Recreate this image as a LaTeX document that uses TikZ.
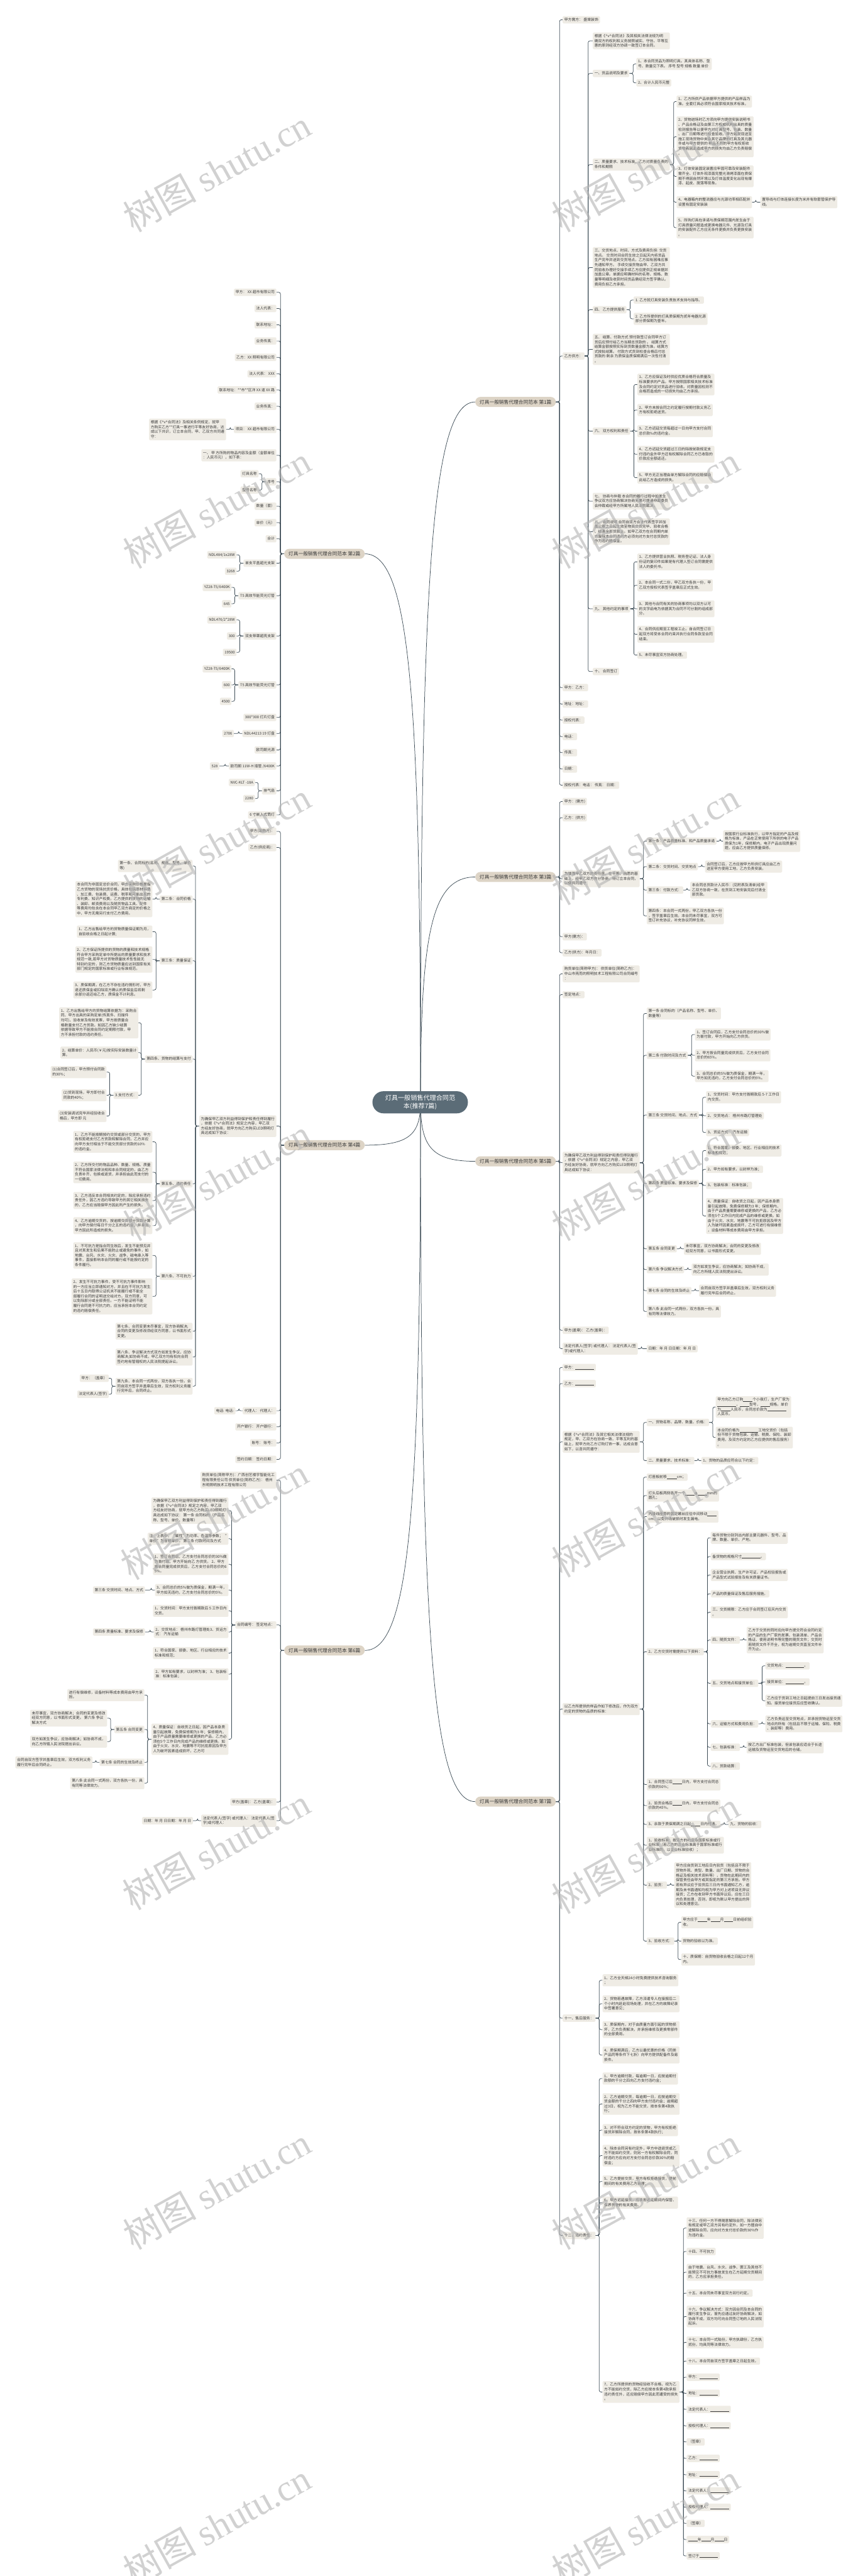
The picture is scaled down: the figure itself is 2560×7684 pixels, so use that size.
\documentclass[tikz,border=0pt]{standalone}
\usepackage{fontspec}
\setmainfont{Noto Sans CJK SC}
\newfontfamily\wmfont{Liberation Serif}
\usetikzlibrary{calc}

\definecolor{leafbg}{HTML}{EFECE5}
\definecolor{branchbg}{HTML}{DDD4C6}
\definecolor{rootbg}{HTML}{5B6C77}
\definecolor{linec}{HTML}{3E4D57}
\definecolor{txt}{HTML}{393939}

\newcommand{\hatv}{\textasciicircum v\textasciicircum}
\newcommand{\fillin}[1]{\rule[-1.2pt]{#1pt}{0.5pt}}
\newcommand{\lstrut}{\rule[-1.8pt]{0pt}{11.3pt}}

\pgfdeclarelayer{background}
\pgfsetlayers{background,main}

\tikzset{
  leaf/.style={fill=leafbg, text=txt, rounded corners=3pt, inner xsep=5pt, inner ysep=5.3pt,
    font=\fontsize{11}{14.3}\selectfont, align=left,
    execute at begin node=\lstrut, execute at end node=\lstrut},
  rleaf/.style={leaf, anchor=west},
  lleaf/.style={leaf, anchor=east},
  branch/.style={fill=branchbg, text=txt, rounded corners=15pt, minimum height=30pt,
    inner xsep=13pt, font=\fontsize{14.5}{17}\selectfont},
  root/.style={fill=rootbg, text=white, rounded corners=33pt, minimum height=66pt,
    inner xsep=38pt, font=\fontsize{19}{25}\selectfont, align=center},
  link/.style={draw=linec, line width=1.4pt, rounded corners=5pt},
  rt/.style={to path={-- ++(11,0) |- (\tikztotarget)}},
  lt/.style={to path={-- ++(-11,0) |- (\tikztotarget)}},
  wm/.style={text=black!30, text opacity=0.6, rotate=29, font=\fontsize{110}{110}\selectfont},
}

\begin{document}
\begin{tikzpicture}[x=1pt, y=-1pt]
\useasboundingbox (0,0) rectangle (2560,7684);

% root and the seven branches
\node[root] (root) at (1254,3288) {灯具一般销售代理合同范\\本(推荐7篇)};
\coordinate (hub) at (1255,3288);
\node[branch, anchor=east] (b1) at (1659,1199) {灯具一般销售代理合同范本 第1篇};
\node[branch, anchor=west] (b2) at (848,1652) {灯具一般销售代理合同范本 第2篇};
\node[branch, anchor=east] (b3) at (1659,2616) {灯具一般销售代理合同范本 第3篇};
\node[branch, anchor=west] (b4) at (848,3416) {灯具一般销售代理合同范本 第4篇};
\node[branch, anchor=east] (b5) at (1659,3464) {灯具一般销售代理合同范本 第5篇};
\node[branch, anchor=west] (b6) at (848,4923) {灯具一般销售代理合同范本 第6篇};
\node[branch, anchor=east] (b7) at (1659,5374) {灯具一般销售代理合同范本 第7篇};

% ---------- branch 1
\node[rleaf] (b1a) at (1679,59) {甲方需方： 盛棠装饰};
\node[rleaf] (b1b) at (1679,1062) {乙方供方：};
\node[rleaf] (b1c) at (1679,2051) {甲方：乙方：};
\node[rleaf] (b1d) at (1679,2100) {地址：地址：};
\node[rleaf] (b1e) at (1679,2148) {授权代表：};
\node[rleaf] (b1f) at (1679,2197) {电话：};
\node[rleaf] (b1g) at (1679,2245) {传真：};
\node[rleaf] (b1h) at (1679,2294) {日期：};
\node[rleaf] (b1i) at (1679,2342) {授权代表：电话： 传真： 日期：};
\node[rleaf] (b1b1) at (1769,122) {根据《\hatv 合同法》及其相关法律法规为明\\确双方的权利和义务按照诚实、守信、平等互\\惠的原则经双方协调一致签订本合同。};
\node[rleaf] (b1b2) at (1769,219) {一、货品说明及要求};
\node[rleaf] (b1b2a) at (1899,191) {1、本合同货品为照明灯具。其具体名称、型\\号、数量见下表。 序号 型号 规格 数量 单价};
\node[rleaf] (b1b2b) at (1899,247) {2、合计人民币元整};
\node[rleaf] (b1b3) at (1769,491) {二、质量要求、技术标准、乙方对质量负责的\\条件和期限};
\node[rleaf] (b1b3a) at (2019,303) {1、乙方所供产品依据甲方提供的产品样品为\\准。全套灯具必须符合国家相关技术标准。};
\node[rleaf] (b1b3b) at (2019,408) {2、货物进场时乙方须向甲方提供安装说明书\\、产品合格证及由第三方权威机构出具的质量\\检测报告等以便甲方对灯具型号、包装、数量\\、出厂日期等进行检查验收。甲方如发现送至\\施工现场货物中夹杂其它品牌的灯具及其元器\\件或与甲方提供的 样品不符的甲方有权拒收\\货物若因此造成甲方的损失均由乙方负责赔偿\\。};
\node[rleaf] (b1b3c) at (2019,526) {3、灯体安装固定装置应牢固可靠及安装配件\\需齐全、灯体外观漆面完整光滑烤漆面在质保\\期不得因自然环境以及灯体温度变化出现有爆\\漆、起皮、脱落等现象。};
\node[rleaf] (b1b3d) at (2019,603) {4、电器箱内的整流器应与光源功率相匹配并\\设置有固定安装装};
\node[rleaf] (b1b3d1) at (2269,603) {置导线与灯体连接长度为米并有软套管保护导\\线。};
\node[rleaf] (b1b3e) at (2019,679) {5、所购灯具在承诺与质保期范围内发生由于\\灯具质量问题造成更换电器元件、光源及灯具\\的安装配件乙方应无条件更换并负责更换安装\\。};
\node[rleaf] (b1b4) at (1769,798) {三、交货地点、时间、方式及费用负担: 交货\\地点。 交货时间合同生效之日起天内将货品\\生产完毕并送到交货地点。乙方如有困难应事\\先通知甲方。 手续交接货物由甲、乙双方共\\同验收办理好交接手续乙方应提供正规单据并\\加盖公章。单据应明确材料的名称、规格、数\\量等明细及收获时间货品需经双方签字确认。\\ 费用负担乙方承担。};
\node[rleaf] (b1b5) at (1769,924) {四、 乙方提供服务};
\node[rleaf] (b1b5a) at (1891,895) {1. 乙方就灯具安装负责技术支持与指导。};
\node[rleaf] (b1b5b) at (1891,951) {2. 乙方所提供的灯具质保期为贰年电器光源\\部分质保期为壹年。};
\node[rleaf] (b1b6) at (1769,1042) {五、 结算、付款方式 预付款签订合同甲方订\\货后应预付给乙方当期总货款的 。 结算方式\\结算金额按照实际到货数量金额为准。结算方\\式按批结算。 付款方式货到检查合格后付总\\货款的 剩余 为质保金质保期满后一次性付清\\。};
\node[rleaf] (b1b7) at (1769,1286) {六、 双方权利和责任};
\node[rleaf] (b1b7a) at (1902,1147) {1、乙方应保证及时供应优质合格符合质量及\\标准要求的产品。甲方按照国家相关技术标准\\及合同约定对货品进行验收。对质量因检测不\\合格而造成的一切损失均由乙方承担。};
\node[rleaf] (b1b7b) at (1902,1223) {2、甲方未按合同之约定履行按期付款义务乙\\方有权拒绝送货。};
\node[rleaf] (b1b7c) at (1902,1286) {3、乙方迟延交货每超过一日向甲方支付合同\\总价款‰的违约金。};
\node[rleaf] (b1b7d) at (1902,1355) {4、乙方迟延交货超过三日的除按前款规定支\\付违约金外甲方还有权解除合同乙方已收取的\\价款应全额返还。};
\node[rleaf] (b1b7e) at (1902,1425) {5、甲方无正当理由单方解除合同的应赔偿由\\此给乙方造成的损失。};
\node[rleaf] (b1b8) at (1769,1495) {七、 协商与仲裁 本合同的履行过程中如发生\\争议双方应协商解决协商无果可提请仲裁委员\\会仲裁或经甲方所属地人民法院裁决。};
\node[rleaf] (b1b9) at (1769,1586) {八、 合同说明 合同自双方合法代表签字并加\\盖公章之日起生效至物资交货完毕、验收合格\\、结清全部货款止。如甲乙双方在合同期内单\\方废除本合同违约方必须向对方支付总货款的\\作为违约赔偿金。};
\node[rleaf] (b1b10) at (1769,1816) {九、 其他约定的事项};
\node[rleaf] (b1b10a) at (1902,1676) {1、乙方提供营业执照、税务登记证、法人身\\份证的复印件如果是有代理人签订合同需提供\\法人的委托书。};
\node[rleaf] (b1b10b) at (1902,1746) {2、本合同一式二份，甲乙双方各执一份，甲\\乙双方授权代表签字盖章后正式生效。};
\node[rleaf] (b1b10c) at (1902,1816) {3、其他与合同有关的协商事项均以双方认可\\的文字函电为依据其为合同不可分割的组成部\\分。};
\node[rleaf] (b1b10d) at (1902,1892) {4、合同供应期至工程竣工止。自合同签订日\\起双方将受本合同约束并执行合同条款至合同\\结束。};
\node[rleaf] (b1b10e) at (1902,1954) {5、未尽事宜双方协商处理。};
\node[rleaf] (b1b11) at (1769,2003) {十、 合同签订};

% ---------- branch 3
\node[rleaf] (b3a) at (1679,2391) {甲方：(需方)};
\node[rleaf] (b3b) at (1679,2439) {乙方：(供方)};
\node[rleaf] (b3c) at (1679,2621) {为增强甲乙双方的责任感，在平等、自愿的基\\础上，经甲乙双方充分协商，特订立本合同，\\以便共同遵守：};
\node[rleaf] (b3c1) at (1930,2509) {第一条：产品质量标准、和产品质量承诺};
\node[rleaf] (b3c1a) at (2158,2509) {按国家行业标准执行，以甲方指定的产品及规\\格为标准，产品在正常使用下所供的电子产品\\质保为1年，保修期内，电子产品出现质量问\\题，应由乙方提供质量保修。};
\node[rleaf] (b3c2) at (1930,2585) {第二条：交货时间、交货地点};
\node[rleaf] (b3c2a) at (2104,2585) {合同签订后，乙方应按甲方所供灯具应由乙方\\送至甲方使用工地，乙方负责安装。};
\node[rleaf] (b3c3) at (1930,2655) {第三条：付款方式：};
\node[rleaf] (b3c3a) at (2060,2655) {本合同总货款计人民币：(见附表及清单)经甲\\乙双方协商一致，在货到工地安装完后付清全\\部货款。};
\node[rleaf] (b3c4) at (1930,2732) {第四条：本合同一式两份，甲乙双方各执一份\\，签字盖章后生效。本合同未尽事宜，双方可\\签订补充协议，补充协议同样生效。};
\node[rleaf] (b3d) at (1679,2794) {甲方(需方)：};
\node[rleaf] (b3e) at (1679,2842) {乙方(供方)：年月日：};

% ---------- branch 5
\node[rleaf] (b5a) at (1679,2905) {购货单位(简称甲方)： 供货单位(简称乙方)：\\中山市亮而的照明技术工程有限公司合同编号\\：};
\node[rleaf] (b5b) at (1679,2967) {签定地点：};
\node[rleaf] (b5c) at (1679,3468) {为确保甲乙双方利益得到保护和责任得到履行\\，依据《\hatv 合同法》规定之内容，甲乙双\\方经友好协商，就甲方向乙方购买LED照明灯\\具达成如下协议：};
\node[rleaf] (b5c1) at (1930,3023) {第一条 合同标的（产品名称、型号、单价、\\数量等）};
\node[rleaf] (b5c2) at (1930,3148) {第二条 付款时间及方式};
\node[rleaf] (b5c2a) at (2074,3086) {1、签订合同后，乙方支付合同总价的30\%做\\为首付款，甲方开始向乙方供货。};
\node[rleaf] (b5c2b) at (2074,3148) {2、甲方按合同量完成供货后，乙方支付合同\\总价的65\%。};
\node[rleaf] (b5c2c) at (2074,3210) {3、合同总价的5\%做为质保金，期满一年，\\甲方如无违约，乙方支付合同总价的5\%。};
\node[rleaf] (b5c3) at (1930,3326) {第三条 交货时间、地点、方式};
\node[rleaf] (b5c3a) at (2107,3273) {1、交货时间：甲方支付首期款后 5-7 工作日\\内交货。};
\node[rleaf] (b5c3b) at (2107,3328) {2、交货地点： 梧州市路灯管理处};
\node[rleaf] (b5c3c) at (2107,3378) {3、货运方式： 汽车运输};
\node[rleaf] (b5c4) at (1930,3530) {第四条 质量标准、要求及保修};
\node[rleaf] (b5c4a) at (2107,3432) {1、符合国家、部委、地区、行业相应的技术\\标准和规范；};
\node[rleaf] (b5c4b) at (2107,3488) {2、甲方如有要求，以封样为准；};
\node[rleaf] (b5c4c) at (2107,3536) {3、包装标准：标准包装；};
\node[rleaf] (b5c4d) at (2107,3627) {4、质量保证：自收货之日起，因产品本身质\\量引起故障，免费保修期为3 年；保修期内，\\由于产品质量需要维修或更换的产品，乙方必\\须在5个工作日内完成产品的维修或更换。如\\由于火灾、水灾、地震等不可抗拒原因及甲方\\人为破坏因素造成损坏，乙方可进行有偿维修\\，设备材料等成本费用由甲方承担。};
\node[rleaf] (b5c5) at (1930,3725) {第五条 合同变更};
\node[rleaf] (b5c5a) at (2041,3725) {未尽事宜，双方协商解决；合同的变更及修改\\经双方同意，以书面形式变更。};
\node[rleaf] (b5c6) at (1930,3787) {第六条 争议解决方式};
\node[rleaf] (b5c6a) at (2064,3787) {双方如发生争议，应协商解决；如协商不成，\\向乙方所辖人民法院提出诉讼。};
\node[rleaf] (b5c7) at (1930,3850) {第七条 合同的生效及终止};
\node[rleaf] (b5c7a) at (2086,3850) {合同自双方签字并盖章后生效，双方权利义务\\履行完毕后合同终止。};
\node[rleaf] (b5c8) at (1930,3912) {第八条 此合同一式两份，双方各执一份。具\\有同等法律效力。};
\node[rleaf] (b5d) at (1679,3968) {甲方(盖章)： 乙方(盖章)：};
\node[rleaf] (b5e) at (1679,4023) {法定代表人(签字) 或代理人： 法定代表人(签\\字)或代理人：};
\node[rleaf] (b5e1) at (1930,4023) {日期：年 月 日日期：年 月 日};

% ---------- branch 7
\node[rleaf] (b7a) at (1679,4079) {甲方：\fillin{56}};
\node[rleaf] (b7b) at (1679,4127) {乙方：\fillin{56}};
\node[rleaf] (b7c) at (1679,4301) {根据《\hatv 合同法》及其它相关法律法规的\\规定，甲、乙双方在协商一致、平等互利的基\\础上，就甲方向乙方订购灯饰一事，达成合意\\如下，以咨共同遵守：};
\node[rleaf] (b7c1) at (1930,4243) {一、货物名称、品牌、数量、价格：};
\node[rleaf] (b7c1a) at (2136,4197) {甲方向乙方订购\fillin{28}个小夜灯，生产厂家为\\\fillin{56}，\fillin{28}型号，\fillin{28}规格。单价\\为\fillin{28}人民币，合同总价款为\fillin{56}\\人民币。};
\node[rleaf] (b7c1b) at (2136,4288) {本合同价格为\fillin{56}工地交货价（包括\\但不限于货物包装、运输、税费、保险、装卸\\费用，及双方约定的乙方应提供的售后服务）\\。};
\node[rleaf] (b7c2) at (1930,4357) {二、质量要求、技术标准：};
\node[rleaf] (b7c2a) at (2093,4357) {1、货物的品质应符合以下约定：};
\node[rleaf] (b7d) at (1679,5098) {以乙方所提供的样品作如下修改后，作为双方\\约定的货物的品质的标准：};
\node[rleaf] (b7d1) at (1930,4406) {灯座板前移\fillin{30}cm；};
\node[rleaf] (b7d2) at (1930,4461) {灯头后板两侧各开一个\fillin{28}φ\fillin{28}mm的\\圆孔；};
\node[rleaf] (b7d3) at (1930,4524) {内接线座旁的固定螺丝应往中间移动\fillin{28}\\cm，以免外线破损时发生漏电。};
\node[rleaf] (b7d4) at (1930,4927) {2、乙方交货时需提供以下资料：};
\node[rleaf] (b7d4a) at (2121,4587) {每件货物分别列出内部主要元器件、型号、品\\牌、数量、单价、产地。};
\node[rleaf] (b7d4b) at (2121,4643) {备货物的规格尺寸\fillin{56}。};
\node[rleaf] (b7d4c) at (2121,4698) {企业营业执照、生产许可证、产品检验报告或\\产品型式试验报告及有关质量证书。};
\node[rleaf] (b7d4d) at (2121,4754) {产品的质量保证及售后服务措施。};
\node[rleaf] (b7d4e) at (2121,4809) {三、交货期限：乙方应于合同签订后天内交货\\。};
\node[rleaf] (b7d4f) at (2121,4892) {四、随货文件：};
\node[rleaf] (b7d4f1) at (2228,4892) {乙方于交货的同时应向甲方提交符合合同约定\\的产品的生产厂家的发票、包装清单、产品合\\格证、使用说明书等完整的随货文件；交货时\\若随货文件不齐全，视为逾期交货直至文件补\\齐为止。};
\node[rleaf] (b7d4g) at (2121,5021) {五、交货地点和接货单位：};
\node[rleaf] (b7d4g1) at (2284,4969) {交货地点：\fillin{56}。};
\node[rleaf] (b7d4g2) at (2284,5017) {接货单位：\fillin{56}。};
\node[rleaf] (b7d4g3) at (2284,5073) {乙方应于货到工地之日起提前三日发出接货通\\知。接货单位接货后应签收确认。};
\node[rleaf] (b7d4h) at (2121,5142) {六、运输方式和费用负担：};
\node[rleaf] (b7d4h1) at (2284,5142) {乙方负责运至交货地点，并承担货物运至交货\\地点的所有（包括且不限于运输、保险、税费\\、装卸等）费用。};
\node[rleaf] (b7d4i) at (2121,5212) {七、包装标准：};
\node[rleaf] (b7d4i1) at (2228,5212) {按乙方出厂标准包装，但该包装应适合于长途\\运输及货物运至交货地后的仓储。};
\node[rleaf] (b7d4j) at (2121,5268) {八、货款结算：};
\node[rleaf] (b7d5) at (1930,5323) {1、合同签订后\fillin{28}日内，甲方支付合同总\\价款的50\%；};
\node[rleaf] (b7d6) at (1930,5386) {2、验货合格后\fillin{28}日内，甲方支付合同总\\价款的45\%。};
\node[rleaf] (b7d7) at (1930,5442) {3、余款于质保期满之日起\fillin{28}日内付清。};
\node[rleaf] (b7d7a) at (2174,5442) {九、货物的验收：};
\node[rleaf] (b7d8) at (1930,5504) {1、验收标准：按双方的约定及国家标准或行\\业标准（若乙方的企业标准高于国家标准或行\\业标准的，以企业标准验收）；};
\node[rleaf] (b7d9) at (1930,5623) {2、验货：};
\node[rleaf] (b7d9a) at (2012,5623) {甲方应自货到工地后日内验货（包括且不限于\\货物外观、类型、数量、出厂日期、货物的合\\格证及相关技术资料等），货物在此期间内的\\保管责任由甲方或其指定的第三方承担。甲方\\若有异议应于验货后三日内书面通知乙方，逾\\期及未书面通知均视为甲方对上述项目无异议\\接货；乙方在收到甲方书面异议后，应在三日\\内负责处理，否则，即视为默认甲方提出的异\\议和处理意见。};
\node[rleaf] (b7d10) at (1930,5790) {3、验收方式：};
\node[rleaf] (b7d10a) at (2033,5734) {甲方应于\fillin{28}年\fillin{28}月\fillin{28}日前组织验\\收。};
\node[rleaf] (b7d10b) at (2033,5790) {货物的验收以为准。};
\node[rleaf] (b7d10c) at (2033,5845) {十、质保期：自货物验收合格之日起12个月\\内。};
\node[rleaf] (b7e) at (1679,6020) {十一、售后服务：};
\node[rleaf] (b7e1) at (1798,5907) {1、乙方全天候24小时免费提供技术咨询服务\\；};
\node[rleaf] (b7e2) at (1798,5977) {2、货物若遇故障，乙方派遣专人在接报后二\\个小时内赶赴现场处理，并在乙方的故障纪录\\中签署意见；};
\node[rleaf] (b7e3) at (1798,6054) {3、质保期内，对于由质量方面引起的货物损\\坏，乙方负责解决，并承担维修及更换零部件\\的全部费用。};
\node[rleaf] (b7e4) at (1798,6130) {4、质保期满后，乙方以最优惠的价格（同类\\产品同等条件下七折）向甲方提供配备件及易\\损件。};
\node[rleaf] (b7f) at (1679,6668) {十二、违约责任：};
\node[rleaf] (b7f1) at (1798,6200) {1、甲方逾期付款，每逾期一日，应按逾期付\\款额的千分之四向乙方支付违约金；};
\node[rleaf] (b7f2) at (1798,6276) {2、乙方逾期交货，每逾期一日，应按逾期交\\货金额的千分之四向甲方支付违约金；逾期超\\过3日，视为乙方不能交货，按本条第4款执\\行；};
\node[rleaf] (b7f3) at (1798,6354) {3、对不符合双方约定的货物，甲方有权拒绝\\接货并解除合同，按本条第4款执行；};
\node[rleaf] (b7f4) at (1798,6430) {4、除本合同另有约定外，甲方中途退货或乙\\方不能如约交货，则另一方有权解除合同，同\\时违约方应向对方支付合同总价款30\%的赔\\偿金；};
\node[rleaf] (b7f5) at (1798,6507) {5、乙方提前交货，甲方有权拒绝接货，提前\\期间的有关费用乙方自理；};
\node[rleaf] (b7f6) at (1798,6570) {6、甲方迟延接货，应承担迟延期间内保管、\\保养货物的有关费用。};
\node[rleaf] (b7f7) at (1798,7135) {7、乙方所提供的货物经验收不合格，视为乙\\方不能如约交货，除乙方应按本条第4款承担\\违约责任外，还应赔偿甲方因此而遭受的损失\\。};
\node[rleaf] (b7g1) at (2049,6646) {十三、任何一方不得随意解除合同，除法律另\\有规定或甲乙双方另有约定外，如一方擅自中\\途解除合同，应向对方支付总价款的30\%作\\为违约金。};
\node[rleaf] (b7g2) at (2049,6716) {十四、不可抗力};
\node[rleaf] (b7g3) at (2049,6778) {由于地震、台风、水灾、战争、罢工及其他不\\能预见不可抗力事故发生在乙方延期交货期间\\的，乙方应承担责任。};
\node[rleaf] (b7g4) at (2049,6840) {十五、本合同未尽事宜双方另行约定。};
\node[rleaf] (b7g5) at (2049,6910) {十六、争议解决方式：双方因合同及本合同的\\履行发生争议，首先应通过友好协商解决，如\\协商不成，双方均可向合同签订地的人民法院\\起诉。};
\node[rleaf] (b7g6) at (2049,6987) {十七、本合同一式陆份，甲方执肆份，乙方执\\贰份，均具同等法律效力。};
\node[rleaf] (b7g7) at (2049,7043) {十八、本合同自双方签字盖章之日起生效。};
\node[rleaf] (b7g8) at (2049,7091) {甲方：\fillin{56}};
\node[rleaf] (b7g9) at (2049,7139) {地址：\fillin{56}};
\node[rleaf] (b7g10) at (2049,7187) {法定代表人：\fillin{56}};
\node[rleaf] (b7g11) at (2049,7236) {授权代理人：\fillin{56}};
\node[rleaf] (b7g12) at (2049,7284) {（签章）};
\node[rleaf] (b7g13) at (2049,7333) {乙方：\fillin{56}};
\node[rleaf] (b7g14) at (2049,7382) {地址：\fillin{56}};
\node[rleaf] (b7g15) at (2049,7430) {法定代表人：\fillin{56}};
\node[rleaf] (b7g16) at (2049,7479) {授权代理人：\fillin{56}};
\node[rleaf] (b7g17) at (2049,7527) {（签章）};
\node[rleaf] (b7g18) at (2049,7575) {\fillin{28}年\fillin{28}月\fillin{28}日};
\node[rleaf] (b7g19) at (2049,7624) {签订于\fillin{56}};

% ---------- branch 2
\node[lleaf] (b2a) at (825,872) {甲方： XX 超市有限公司};
\node[lleaf] (b2b) at (825,920) {法人代表：};
\node[lleaf] (b2c) at (825,969) {联系地址：};
\node[lleaf] (b2d) at (825,1017) {业务传真：};
\node[lleaf] (b2e) at (825,1066) {乙方：XX 照明有限公司};
\node[lleaf] (b2f) at (825,1115) {法人代表： XXX};
\node[lleaf] (b2g) at (825,1163) {联系地址：**市**区洋 XX 道 XX 路};
\node[lleaf] (b2h) at (825,1212) {业务传真：};
\node[lleaf] (b2i) at (825,1281) {项目： XX 超市有限公司};
\node[lleaf] (b2i1) at (675,1281) {根据《\hatv 合同法》及相关条例规定，就甲\\方购买乙方**灯具一事进行平等友好协商，达\\成以下共识，订立本合同，甲、乙双方共同遵\\守：};
\node[lleaf] (b2j) at (825,1358) {一、 甲 方所购的物品内容及金额（金额单位\\：人民币元），如下表：};
\node[lleaf] (b2k) at (825,1437) {序号};
\node[lleaf] (b2k1) at (772,1413) {灯具名称};
\node[lleaf] (b2k2) at (772,1462) {型号名称};
\node[lleaf] (b2l) at (825,1510) {数量（套）};
\node[lleaf] (b2m) at (825,1559) {单价（元）};
\node[lleaf] (b2n) at (825,1607) {合计};
\node[lleaf] (b2o) at (825,1680) {单支平盖超光支架};
\node[lleaf] (b2o1) at (706,1655) {NDL484/1x28W};
\node[lleaf] (b2o2) at (706,1704) {3268};
\node[lleaf] (b2p) at (825,1777) {T5 高效节能荧光灯管};
\node[lleaf] (b2p1) at (691,1752) {YZ28-T5/6400K};
\node[lleaf] (b2p2) at (691,1801) {645};
\node[lleaf] (b2q) at (825,1897) {双支带罩超亮支架};
\node[lleaf] (b2q1) at (706,1849) {NDL476/2*28W};
\node[lleaf] (b2q2) at (706,1897) {300};
\node[lleaf] (b2q3) at (706,1946) {19500};
\node[lleaf] (b2r) at (825,2043) {T5 高效节能荧光灯管};
\node[lleaf] (b2r1) at (691,1995) {YZ28-T5/6400K};
\node[lleaf] (b2r2) at (691,2043) {600};
\node[lleaf] (b2r3) at (691,2092) {4500};
\node[lleaf] (b2s) at (825,2140) {300*300 灯片灯盘};
\node[lleaf] (b2t) at (825,2188) {NDL44213 19 灯盘};
\node[lleaf] (b2t1) at (698,2188) {2706};
\node[lleaf] (b2u) at (825,2237) {欧司朗光源};
\node[lleaf] (b2v) at (825,2285) {欧司朗 11W-H 插管 /6400K};
\node[lleaf] (b2v1) at (655,2285) {528};
\node[lleaf] (b2w) at (825,2359) {排气扇};
\node[lleaf] (b2w1) at (761,2334) {NVC-KLT -18A};
\node[lleaf] (b2w2) at (761,2382) {2280};
\node[lleaf] (b2x) at (825,2431) {6 寸嵌入式筒灯};

% ---------- branch 4
\node[lleaf] (b4a) at (825,2480) {甲方(采购方)：};
\node[lleaf] (b4b) at (825,2528) {乙方(供应商)：};
\node[lleaf] (b4c) at (825,3359) {为确保甲乙双方利益得到保护和责任得到履行\\，依据《\hatv 合同法》规定之内容，甲乙双\\方经友好协商，就甲方向乙方购买LED照明灯\\具达成如下协议：};
\node[lleaf] (b4c1) at (575,2583) {第一条、合同标的(名称、规格、型号、单价\\等)};
\node[lleaf] (b4c2) at (575,2682) {第二条：合同价格};
\node[lleaf] (b4c2a) at (455,2682) {本合同为非固定总价合同，甲方采购价格是指\\乙方货物的现场抗货价格，具体包括原材料费\\、加工费、包装费、运费、税率和可能出现的\\专利费、知识产权费。乙方提供的货物的运输\\、装卸、邮资费用以及随货物品工具、配件\\等费用均包含在本合同甲乙双方商定的价格之\\中，甲方无需另行支付乙方费用。};
\node[lleaf] (b4c3) at (575,2866) {第三条：质量保证};
\node[lleaf] (b4c3a) at (455,2779) {1、乙方出售给甲方的货物质量保证期为月，\\自验收合格之日起计算;};
\node[lleaf] (b4c3b) at (455,2862) {2、乙方保证所提供的货物的质量和技术规格\\符合甲方采购定单中所提出的质量要求和技术\\规范一致,若甲方对货物质量技术性性能无\\特别约定的，则乙方货物质量应达到国家有关\\部门规定的国家标准或行业标准规范。};
\node[lleaf] (b4c3c) at (455,2953) {3、质保期满，在乙方不存在违约情形时，甲方\\退还质保金或扣除双方确认的质保金后将剩\\余部分返还给乙方，质保金不计利息。};
\node[lleaf] (b4c4) at (575,3159) {第四条、货物的结算与支付};
\node[lleaf] (b4c4a) at (413,3051) {1、乙方出售给甲方的货物结算依据为：采购合\\同、甲方出具的采购定单(传真件、扫描件\\均可)、验收单及有效发票，甲方按质量合\\格数量支付乙方货款。如因乙方缺少结算\\依据导致甲方不能按合同约定期限付款，甲\\方不承担付款的违约责任。};
\node[lleaf] (b4c4b) at (413,3140) {2、结算单价：人民币(￥元)按实际安装数量计\\算。};
\node[lleaf] (b4c4c) at (413,3267) {3.支付方式：};
\node[lleaf] (b4c4c1) at (318,3198) {(1)合同签订后，甲方预付合同款\\的30\%；};
\node[lleaf] (b4c4c2) at (318,3267) {(2)货到现场，甲方即付合\\同款的40\%；};
\node[lleaf] (b4c4c3) at (318,3329) {(3)安装调试完毕并经验收合\\格后，甲方即 元};
\node[lleaf] (b4c5) at (575,3531) {第五条、违约责任};
\node[lleaf] (b4c5a) at (455,3406) {1、乙方不能按期按约交货或部分交货的，甲方\\有权拒绝支付乙方货款和解除合同，乙方并应\\向甲方支付相当于不能交货部分货款的10\%\\的违约金。};
\node[lleaf] (b4c5b) at (455,3497) {2、乙方所交付的物品品种、数量、规格、质量\\不符合国家法律法规和本合同规定的，由乙方\\负责补齐、包换或退货，并承担由此而支付的\\一切费用。};
\node[lleaf] (b4c5c) at (455,3581) {3、乙方违反本合同相关约定的，除应承担违约\\责任外，因乙方违约导致甲方的其它相关损失\\的，乙方应当赔偿甲方因此所产生的损失。};
\node[lleaf] (b4c5d) at (455,3656) {4、乙方逾期交货的，按逾期交货部分货款计算\\，向甲方偿付每日千分之五的违约金，并承当\\甲方因此所造成的损失。};
\node[lleaf] (b4c6) at (575,3807) {第六条、不可抗力};
\node[lleaf] (b4c6a) at (455,3745) {1、不可抗力是指合同生效后，发生不能预见并\\且对其发生和后果不能防止或避免的事件，如\\地震、台风、水灾、火灾、战争、磁电串入等\\事件，直接影响本合同的履行或不能按约定的\\条件履行。};
\node[lleaf] (b4c6b) at (455,3867) {2、发生不可抗力事件，受不可抗力事件影响\\的一方应当立即通知对方，并且在不可抗力发生\\后十五日内取得公证机关不能履行或不能全\\部履行合同的证明送交给对方。双方同意，可\\以免除部分或全部责任。一方不能证明不能\\履行合同是不可抗力的，应当承担本合同约定\\的违约赔偿责任。};
\node[lleaf] (b4c7) at (575,3971) {第七条、合同变更未尽事宜，双方协商解决;\\合同的变更及修改须经双方同意，以书面形式\\变更。};
\node[lleaf] (b4c8) at (575,4048) {第八条、争议解决方式双方如发生争议，应协\\商解决;如协商不成，甲乙双方均有权向合同\\签约地有管辖权的人民法院提起诉讼。};
\node[lleaf] (b4c9) at (575,4135) {第九条、本合同一式两份，双方各执一份。合\\同自双方签字并盖章后生效，双方权利义务履\\行完毕后，合同终止。};
\node[lleaf] (b4c9a) at (325,4111) {甲方：（盖章）};
\node[lleaf] (b4c9b) at (325,4159) {法定代表人(签字)};
\node[lleaf] (b4d) at (825,4208) {代理人： 代理人：};
\node[lleaf] (b4d1) at (703,4208) {电话: 电话:};
\node[lleaf] (b4e) at (825,4256) {开户银行： 开户银行：};
\node[lleaf] (b4f) at (825,4304) {账号： 账号：};
\node[lleaf] (b4g) at (825,4353) {签约日期： 签约日期：};

% ---------- branch 6
\node[lleaf] (b6a) at (825,4415) {购货单位(简称甲方)：广西创艺楼宇智能化工\\程有限责任公司 供货单位(简称乙方)： 梧州\\东明照明技术工程有限公司};
\node[lleaf] (b6b) at (825,4847) {合同编号： 签定地点：};
\node[lleaf] (b6b1) at (682,4506) {为确保甲乙双方利益得到保护和责任得到履行\\，依据《\hatv 合同法》规定之内容，甲乙双\\方经友好协商，就甲方向乙方购买LED照明灯\\具达成如下协议： 第一条 合同标的（产品名\\称、型号、单价、数量等）};
\node[lleaf] (b6b2) at (682,4590) {注：上表中，“属性”为功率、色温等参数；“\\单价”为含税单价。 第二条 付款时间及方式};
\node[lleaf] (b6b3) at (682,4666) {1、签订合同后，乙方支付合同总价的30\%做\\为首付款，甲方开始向乙 方供货。 2、甲方\\按合同量完成供货后，乙方支付合同总价的6\\5\%。};
\node[lleaf] (b6b4) at (682,4743) {3、合同总价的5\%做为质保金，期满一年，\\甲方如无违约，乙方支付合同总价的5\%。};
\node[lleaf] (b6b4a) at (433,4743) {第三条 交货时间、地点、方式};
\node[lleaf] (b6b5) at (682,4805) {1、交货时间：甲方支付首期款后 5 工作日内\\交货。};
\node[lleaf] (b6b6) at (682,4868) {2、交货地点： 梧州市路灯管理处3、货运方\\式： 汽车运输};
\node[lleaf] (b6b6a) at (433,4868) {第四条 质量标准、要求及保修};
\node[lleaf] (b6b7) at (682,4931) {1、符合国家、部委、地区、行业相应的技术\\标准和规范；};
\node[lleaf] (b6b8) at (682,4994) {2、甲方如有要求，以封样为准； 3、包装标\\准：标准包装；};
\node[lleaf] (b6b9) at (682,5188) {4、质量保证：自收货之日起，因产品本身质\\量引起故障，免费保修期为3 年；保修期内，\\由于产品质量需要维修或更换的产品，乙方必\\须在5个工作日内完成产品的维修或更换。如\\由于火灾、水灾、地震等不可抗拒原因及甲方\\人为破坏因素造成损坏，乙方可};
\node[lleaf] (b6b9a) at (431,5056) {进行有偿维修，设备材料等成本费用由甲方承\\担。};
\node[lleaf] (b6b9b) at (431,5159) {第五条 合同变更};
\node[lleaf] (b6b9b1) at (320,5125) {未尽事宜，双方协商解决；合同的变更及修改\\经双方同意，以书面形式变更。 第六条 争议\\解决方式};
\node[lleaf] (b6b9b2) at (320,5195) {双方如发生争议，应协商解决；如协商不成，\\向乙方所辖人民法院提出诉讼。};
\node[lleaf] (b6b9c) at (431,5257) {第七条 合同的生效及终止};
\node[lleaf] (b6b9c1) at (276,5257) {合同自双方签字并盖章后生效，双方权利义务\\履行完毕后合同终止。};
\node[lleaf] (b6b9d) at (431,5319) {第八条 此合同一式两份，双方各执一份，具\\有同等法律效力。};
\node[lleaf] (b6c) at (825,5375) {甲方(盖章)： 乙方(盖章)：};
\node[lleaf] (b6d) at (825,5431) {法定代表人(签字) 或代理人： 法定代表人(签\\字)或代理人：};
\node[lleaf] (b6d1) at (576,5431) {日期：年 月 日日期：年 月 日};

% ---------- connectors
\begin{pgfonlayer}{background}
\draw[link] (hub) .. controls ($(hub)!0.75!(hub |- b1.west)$) and ($(b1.west)!0.8!(hub |- b1.west)$) .. (b1.west);
\draw[link] (hub) .. controls ($(hub)!0.75!(hub |- b3.west)$) and ($(b3.west)!0.8!(hub |- b3.west)$) .. (b3.west);
\draw[link] (hub) .. controls ($(hub)!0.75!(hub |- b5.west)$) and ($(b5.west)!0.8!(hub |- b5.west)$) .. (b5.west);
\draw[link] (hub) .. controls ($(hub)!0.75!(hub |- b7.west)$) and ($(b7.west)!0.8!(hub |- b7.west)$) .. (b7.west);
\draw[link] (hub) .. controls ($(hub)!0.75!(hub |- b2.east)$) and ($(b2.east)!0.8!(hub |- b2.east)$) .. (b2.east);
\draw[link] (hub) .. controls ($(hub)!0.75!(hub |- b4.east)$) and ($(b4.east)!0.8!(hub |- b4.east)$) .. (b4.east);
\draw[link] (hub) .. controls ($(hub)!0.75!(hub |- b6.east)$) and ($(b6.east)!0.8!(hub |- b6.east)$) .. (b6.east);

% right side
\path[link] (b1.east) edge[rt] (b1a.west) edge[rt] (b1b.west) edge[rt] (b1c.west) edge[rt] (b1d.west) edge[rt] (b1e.west) edge[rt] (b1f.west) edge[rt] (b1g.west) edge[rt] (b1h.west) edge[rt] (b1i.west);
\path[link] (b1b.east) edge[rt] (b1b1.west) edge[rt] (b1b2.west) edge[rt] (b1b3.west) edge[rt] (b1b4.west) edge[rt] (b1b5.west) edge[rt] (b1b6.west) edge[rt] (b1b7.west) edge[rt] (b1b8.west) edge[rt] (b1b9.west) edge[rt] (b1b10.west) edge[rt] (b1b11.west);
\path[link] (b1b2.east) edge[rt] (b1b2a.west) edge[rt] (b1b2b.west);
\path[link] (b1b3.east) edge[rt] (b1b3a.west) edge[rt] (b1b3b.west) edge[rt] (b1b3c.west) edge[rt] (b1b3d.west) edge[rt] (b1b3e.west);
\path[link] (b1b3d.east) edge[rt] (b1b3d1.west);
\path[link] (b1b5.east) edge[rt] (b1b5a.west) edge[rt] (b1b5b.west);
\path[link] (b1b7.east) edge[rt] (b1b7a.west) edge[rt] (b1b7b.west) edge[rt] (b1b7c.west) edge[rt] (b1b7d.west) edge[rt] (b1b7e.west);
\path[link] (b1b10.east) edge[rt] (b1b10a.west) edge[rt] (b1b10b.west) edge[rt] (b1b10c.west) edge[rt] (b1b10d.west) edge[rt] (b1b10e.west);

\path[link] (b3.east) edge[rt] (b3a.west) edge[rt] (b3b.west) edge[rt] (b3c.west) edge[rt] (b3d.west) edge[rt] (b3e.west);
\path[link] (b3c.east) edge[rt] (b3c1.west) edge[rt] (b3c2.west) edge[rt] (b3c3.west) edge[rt] (b3c4.west);
\path[link] (b3c1.east) edge[rt] (b3c1a.west);
\path[link] (b3c2.east) edge[rt] (b3c2a.west);
\path[link] (b3c3.east) edge[rt] (b3c3a.west);

\path[link] (b5.east) edge[rt] (b5a.west) edge[rt] (b5b.west) edge[rt] (b5c.west) edge[rt] (b5d.west) edge[rt] (b5e.west);
\path[link] (b5c.east) edge[rt] (b5c1.west) edge[rt] (b5c2.west) edge[rt] (b5c3.west) edge[rt] (b5c4.west) edge[rt] (b5c5.west) edge[rt] (b5c6.west) edge[rt] (b5c7.west) edge[rt] (b5c8.west);
\path[link] (b5c2.east) edge[rt] (b5c2a.west) edge[rt] (b5c2b.west) edge[rt] (b5c2c.west);
\path[link] (b5c3.east) edge[rt] (b5c3a.west) edge[rt] (b5c3b.west) edge[rt] (b5c3c.west);
\path[link] (b5c4.east) edge[rt] (b5c4a.west) edge[rt] (b5c4b.west) edge[rt] (b5c4c.west) edge[rt] (b5c4d.west);
\path[link] (b5c5.east) edge[rt] (b5c5a.west);
\path[link] (b5c6.east) edge[rt] (b5c6a.west);
\path[link] (b5c7.east) edge[rt] (b5c7a.west);
\path[link] (b5e.east) edge[rt] (b5e1.west);

\path[link] (b7.east) edge[rt] (b7a.west) edge[rt] (b7b.west) edge[rt] (b7c.west) edge[rt] (b7d.west) edge[rt] (b7e.west) edge[rt] (b7f.west);
\path[link] (b7c.east) edge[rt] (b7c1.west) edge[rt] (b7c2.west);
\path[link] (b7c1.east) edge[rt] (b7c1a.west) edge[rt] (b7c1b.west);
\path[link] (b7c2.east) edge[rt] (b7c2a.west);
\path[link] (b7d.east) edge[rt] (b7d1.west) edge[rt] (b7d2.west) edge[rt] (b7d3.west) edge[rt] (b7d4.west) edge[rt] (b7d5.west) edge[rt] (b7d6.west) edge[rt] (b7d7.west) edge[rt] (b7d8.west) edge[rt] (b7d9.west) edge[rt] (b7d10.west);
\path[link] (b7d4.east) edge[rt] (b7d4a.west) edge[rt] (b7d4b.west) edge[rt] (b7d4c.west) edge[rt] (b7d4d.west) edge[rt] (b7d4e.west) edge[rt] (b7d4f.west) edge[rt] (b7d4g.west) edge[rt] (b7d4h.west) edge[rt] (b7d4i.west) edge[rt] (b7d4j.west);
\path[link] (b7d4f.east) edge[rt] (b7d4f1.west);
\path[link] (b7d4g.east) edge[rt] (b7d4g1.west) edge[rt] (b7d4g2.west) edge[rt] (b7d4g3.west);
\path[link] (b7d4h.east) edge[rt] (b7d4h1.west);
\path[link] (b7d4i.east) edge[rt] (b7d4i1.west);
\path[link] (b7d7.east) edge[rt] (b7d7a.west);
\path[link] (b7d9.east) edge[rt] (b7d9a.west);
\path[link] (b7d10.east) edge[rt] (b7d10a.west) edge[rt] (b7d10b.west) edge[rt] (b7d10c.west);
\path[link] (b7e.east) edge[rt] (b7e1.west) edge[rt] (b7e2.west) edge[rt] (b7e3.west) edge[rt] (b7e4.west);
\path[link] (b7f.east) edge[rt] (b7f1.west) edge[rt] (b7f2.west) edge[rt] (b7f3.west) edge[rt] (b7f4.west) edge[rt] (b7f5.west) edge[rt] (b7f6.west) edge[rt] (b7f7.west);
\path[link] (b7f7.east) edge[rt] (b7g1.west) edge[rt] (b7g2.west) edge[rt] (b7g3.west) edge[rt] (b7g4.west) edge[rt] (b7g5.west) edge[rt] (b7g6.west) edge[rt] (b7g7.west) edge[rt] (b7g8.west) edge[rt] (b7g9.west) edge[rt] (b7g10.west) edge[rt] (b7g11.west) edge[rt] (b7g12.west) edge[rt] (b7g13.west) edge[rt] (b7g14.west) edge[rt] (b7g15.west) edge[rt] (b7g16.west) edge[rt] (b7g17.west) edge[rt] (b7g18.west) edge[rt] (b7g19.west);

% left side
\path[link] (b2.west) edge[lt] (b2a.east) edge[lt] (b2b.east) edge[lt] (b2c.east) edge[lt] (b2d.east) edge[lt] (b2e.east) edge[lt] (b2f.east) edge[lt] (b2g.east) edge[lt] (b2h.east) edge[lt] (b2i.east) edge[lt] (b2j.east) edge[lt] (b2k.east) edge[lt] (b2l.east) edge[lt] (b2m.east) edge[lt] (b2n.east) edge[lt] (b2o.east) edge[lt] (b2p.east) edge[lt] (b2q.east) edge[lt] (b2r.east) edge[lt] (b2s.east) edge[lt] (b2t.east) edge[lt] (b2u.east) edge[lt] (b2v.east) edge[lt] (b2w.east) edge[lt] (b2x.east);
\path[link] (b2i.west) edge[lt] (b2i1.east);
\path[link] (b2k.west) edge[lt] (b2k1.east) edge[lt] (b2k2.east);
\path[link] (b2o.west) edge[lt] (b2o1.east) edge[lt] (b2o2.east);
\path[link] (b2p.west) edge[lt] (b2p1.east) edge[lt] (b2p2.east);
\path[link] (b2q.west) edge[lt] (b2q1.east) edge[lt] (b2q2.east) edge[lt] (b2q3.east);
\path[link] (b2r.west) edge[lt] (b2r1.east) edge[lt] (b2r2.east) edge[lt] (b2r3.east);
\path[link] (b2t.west) edge[lt] (b2t1.east);
\path[link] (b2v.west) edge[lt] (b2v1.east);
\path[link] (b2w.west) edge[lt] (b2w1.east) edge[lt] (b2w2.east);

\path[link] (b4.west) edge[lt] (b4a.east) edge[lt] (b4b.east) edge[lt] (b4c.east) edge[lt] (b4d.east) edge[lt] (b4e.east) edge[lt] (b4f.east) edge[lt] (b4g.east);
\path[link] (b4c.west) edge[lt] (b4c1.east) edge[lt] (b4c2.east) edge[lt] (b4c3.east) edge[lt] (b4c4.east) edge[lt] (b4c5.east) edge[lt] (b4c6.east) edge[lt] (b4c7.east) edge[lt] (b4c8.east) edge[lt] (b4c9.east);
\path[link] (b4c2.west) edge[lt] (b4c2a.east);
\path[link] (b4c3.west) edge[lt] (b4c3a.east) edge[lt] (b4c3b.east) edge[lt] (b4c3c.east);
\path[link] (b4c4.west) edge[lt] (b4c4a.east) edge[lt] (b4c4b.east) edge[lt] (b4c4c.east);
\path[link] (b4c4c.west) edge[lt] (b4c4c1.east) edge[lt] (b4c4c2.east) edge[lt] (b4c4c3.east);
\path[link] (b4c5.west) edge[lt] (b4c5a.east) edge[lt] (b4c5b.east) edge[lt] (b4c5c.east) edge[lt] (b4c5d.east);
\path[link] (b4c6.west) edge[lt] (b4c6a.east) edge[lt] (b4c6b.east);
\path[link] (b4c9.west) edge[lt] (b4c9a.east) edge[lt] (b4c9b.east);
\path[link] (b4d.west) edge[lt] (b4d1.east);

\path[link] (b6.west) edge[lt] (b6a.east) edge[lt] (b6b.east) edge[lt] (b6c.east) edge[lt] (b6d.east);
\path[link] (b6b.west) edge[lt] (b6b1.east) edge[lt] (b6b2.east) edge[lt] (b6b3.east) edge[lt] (b6b4.east) edge[lt] (b6b5.east) edge[lt] (b6b6.east) edge[lt] (b6b7.east) edge[lt] (b6b8.east) edge[lt] (b6b9.east);
\path[link] (b6b4.west) edge[lt] (b6b4a.east);
\path[link] (b6b6.west) edge[lt] (b6b6a.east);
\path[link] (b6b9.west) edge[lt] (b6b9a.east) edge[lt] (b6b9b.east) edge[lt] (b6b9c.east) edge[lt] (b6b9d.east);
\path[link] (b6b9b.west) edge[lt] (b6b9b1.east) edge[lt] (b6b9b2.east);
\path[link] (b6b9c.west) edge[lt] (b6b9c1.east);
\path[link] (b6d.west) edge[lt] (b6d1.east);
\end{pgfonlayer}

% watermark
\node[wm] (wm1) at (647,510) {树图 {\wmfont shutu.cn}};
\node[wm] (wm2) at (647,1513) {树图 {\wmfont shutu.cn}};
\node[wm] (wm3) at (647,2516) {树图 {\wmfont shutu.cn}};
\node[wm] (wm4) at (647,3519) {树图 {\wmfont shutu.cn}};
\node[wm] (wm5) at (640,4530) {树图 {\wmfont shutu.cn}};
\node[wm] (wm6) at (645,5515) {树图 {\wmfont shutu.cn}};
\node[wm] (wm7) at (647,6528) {树图 {\wmfont shutu.cn}};
\node[wm] (wm8) at (647,7531) {树图 {\wmfont shutu.cn}};
\node[wm] (wm9) at (1927,510) {树图 {\wmfont shutu.cn}};
\node[wm] (wm10) at (1927,1513) {树图 {\wmfont shutu.cn}};
\node[wm] (wm11) at (1927,2516) {树图 {\wmfont shutu.cn}};
\node[wm] (wm12) at (1927,3519) {树图 {\wmfont shutu.cn}};
\node[wm] (wm13) at (1927,4522) {树图 {\wmfont shutu.cn}};
\node[wm] (wm14) at (1927,5525) {树图 {\wmfont shutu.cn}};
\node[wm] (wm15) at (1927,6528) {树图 {\wmfont shutu.cn}};
\node[wm] (wm16) at (1927,7531) {树图 {\wmfont shutu.cn}};
\end{tikzpicture}
\end{document}
